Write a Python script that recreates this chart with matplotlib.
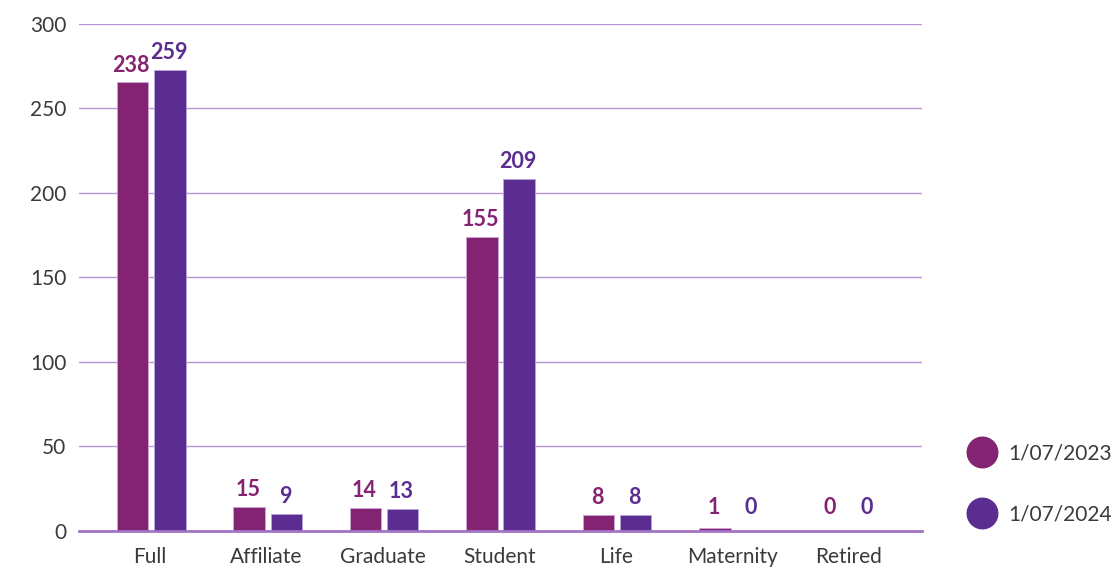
import matplotlib
matplotlib.use('Agg')
import matplotlib.pyplot as plt
from matplotlib.lines import Line2D
import numpy as np

plt.rcParams['font.family'] = ['Lato', 'DejaVu Sans']

categories = ['Full', 'Affiliate', 'Graduate', 'Student', 'Life', 'Maternity', 'Retired']
# bar heights as drawn in the picture
bars_2023 = [265.4, 14.0, 13.5, 174.1, 9.3, 1.6, 0]
bars_2024 = [272.9, 9.9, 12.9, 208.5, 9.3, 0, 0]
# numbers printed above the bars
labels_2023 = [238, 15, 14, 155, 8, 1, 0]
labels_2024 = [259, 9, 13, 209, 8, 0, 0]
series_names = ['1/07/2023', '1/07/2024']

c23 = '#852373'
c24 = '#5b2d90'
grid_c = '#b994d6'

fig = plt.figure(figsize=(11.19, 5.68), dpi=100)
ax = fig.add_axes([0.0706, 0.0657, 0.7534, 0.892])

x = np.arange(len(categories))
w = 0.27
off = 0.16
b1 = ax.bar(x - off, bars_2023, w, color=c23, edgecolor='#c9a6d8', linewidth=0.6, zorder=3)
b2 = ax.bar(x + off, bars_2024, w, color=c24, edgecolor='#b9a6d8', linewidth=0.6, zorder=3)

for rects, labs, col in ((b1, labels_2023, c23), (b2, labels_2024, c24)):
    for r, lab in zip(rects, labs):
        h = max(r.get_height(), 3.5)
        ax.annotate(str(lab), (r.get_x() + r.get_width() / 2, h),
                    xytext=(-1, 5), textcoords='offset points',
                    ha='center', va='bottom', fontsize=15.5, fontweight='bold', color=col)

ax.set_ylim(0, 300)
ax.set_xlim(-0.62, 6.62)
ax.set_yticks([0, 50, 100, 150, 200, 250, 300])
ax.set_xticks(x - 0.01)
ax.set_xticklabels(categories)
ax.yaxis.grid(True, color=grid_c, linewidth=1, zorder=0)
ax.set_axisbelow(True)
ax.tick_params(axis='both', length=0, labelsize=15, colors='#3a3a3a')
ax.tick_params(axis='y', pad=9)
ax.tick_params(axis='x', pad=12)
for s in ['top', 'right', 'left']:
    ax.spines[s].set_visible(False)
ax.spines['bottom'].set_color('#a274c4')
ax.spines['bottom'].set_linewidth(2)
ax.spines['bottom'].set_zorder(4)

handles = [Line2D([], [], marker='o', linestyle='', markersize=22, color=c23),
           Line2D([], [], marker='o', linestyle='', markersize=22, color=c24)]
fig.legend(handles, series_names, loc='center left', bbox_to_anchor=(0.842, 0.148),
           frameon=False, fontsize=15, labelspacing=2.0, handletextpad=0.25,
           labelcolor='#3a3a3a')

fig.savefig('out.png', dpi=100)
